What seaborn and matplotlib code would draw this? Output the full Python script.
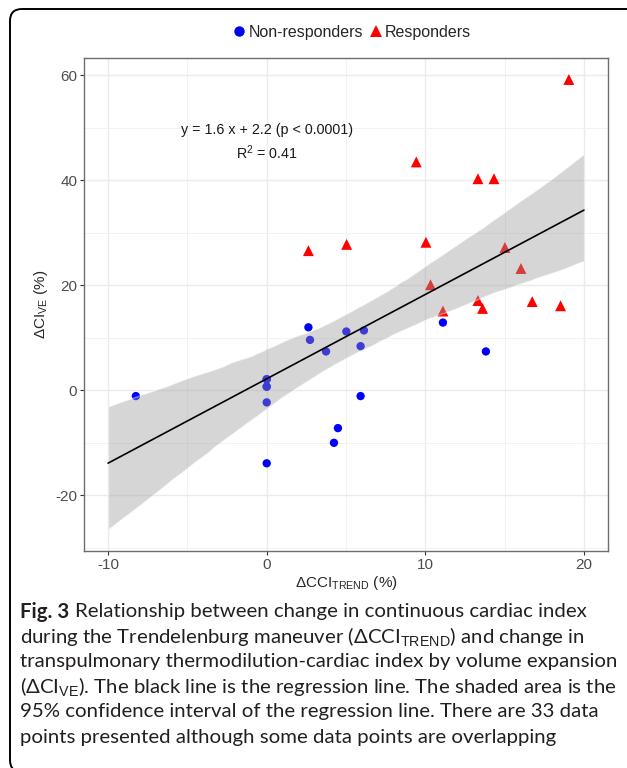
import numpy as np
import pandas as pd
import seaborn as sb
import matplotlib.pyplot as plt
from matplotlib.lines import Line2D
from matplotlib.patches import FancyBboxPatch
from matplotlib.transforms import IdentityTransform
from seaborn import algorithms as algo
from seaborn import utils

# values (x = dCCI_TREND %, y = dCI_VE %)
nonresp_x = [-8.25, 0, 0, 0, 0, 0, 0, 2.63, 2.73, 3.74, 5.02, 6.13, 5.92, 5.92, 4.49, 4.24, 11.11, 13.82]
nonresp_y = [-1.1, 2.1, 2.1, 0.7, 0.7, -2.3, -13.9, 12.0, 9.6, 7.4, 11.2, 11.4, 8.4, -1.1, -7.2, -10.0, 12.9, 7.4]
resp_x = [19.05, 9.43, 13.32, 14.33, 2.63, 5.04, 10.04, 15.02, 16.03, 10.33, 13.32, 13.61, 11.11, 16.74, 18.53]
resp_y = [59.2, 43.5, 40.3, 40.3, 26.6, 27.8, 28.2, 27.2, 23.2, 20.1, 17.1, 15.6, 15.1, 16.9, 16.1]
groups = ["Non-responders", "Responders"]
x_ticks = [-10, 0, 10, 20]
y_ticks = [-20, 0, 20, 40, 60]

equation = "y = 1.6 x + 2.2 (p < 0.0001)"
r2_text = "R$^2$ = 0.41"
caption_lines = [
    "Relationship between change in continuous cardiac index",
    "during the Trendelenburg maneuver (\u0394CCI$_{\\mathrm{TREND}}$) and change in",
    "transpulmonary thermodilution-cardiac index by volume expansion",
    "(\u0394CI$_{\\mathrm{VE}}$). The black line is the regression line. The shaded area is the",
    "95% confidence interval of the regression line. There are 33 data",
    "points presented although some data points are overlapping",
]

df = pd.DataFrame({
    "x": nonresp_x + resp_x,
    "y": nonresp_y + resp_y,
    "group": [groups[0]] * len(nonresp_x) + [groups[1]] * len(resp_x),
})


def pick_seed(x, y, ends=(-10, 20), tries=300):
    # the original band is the classic t-based 95% CI; pick the bootstrap seed
    # whose band comes closest to it at both ends of the line
    x = np.asarray(x, float)
    y = np.asarray(y, float)
    n = len(x)
    X = np.c_[np.ones(n), x]
    beta = np.linalg.lstsq(X, y, rcond=None)[0]
    resid = y - X @ beta
    s = np.sqrt(resid @ resid / (n - 2))
    g = np.asarray(ends, float)
    se = s * np.sqrt(1 / n + (g - x.mean()) ** 2 / ((x - x.mean()) ** 2).sum())
    yhat = beta[0] + beta[1] * g
    target = np.r_[yhat - 2.04 * se, yhat + 2.04 * se]
    grid = np.c_[np.ones(len(g)), g]
    best, best_err = 0, np.inf
    for sd in range(tries):
        boots = algo.bootstrap(X, y, func=lambda a, b: np.linalg.pinv(a).dot(b),
                               n_boot=1000, seed=sd).T
        lo, hi = utils.ci(grid.dot(boots).T, 95, axis=0)
        err = np.abs(np.r_[lo, hi] - target).sum()
        if err < best_err:
            best, best_err = sd, err
    return best


sb.set_style("white")
plt.rcParams["font.family"] = ["Liberation Sans", "DejaVu Sans"]
plt.rcParams["mathtext.fontset"] = "custom"
plt.rcParams["mathtext.rm"] = "Liberation Sans"
plt.rcParams["mathtext.it"] = "Liberation Sans:italic"
plt.rcParams["mathtext.bf"] = "Liberation Sans:bold"
plt.rcParams["axes.unicode_minus"] = False

W, H = 627, 768
fig = plt.figure(figsize=(W / 100, H / 100), dpi=100)
ax = fig.add_axes([84.3 / W, 1 - 550.7 / H, (607.7 - 84.3) / W, (550.7 - 57.7) / H])

palette = {groups[0]: "#0000FF", groups[1]: "#FF0000"}
markers = {groups[0]: "o", groups[1]: "^"}
sizes = {groups[0]: 36, groups[1]: 62}

sb.scatterplot(data=df, x="x", y="y", hue="group", style="group", size="group",
               palette=palette, markers=markers, sizes=sizes, linewidth=0,
               ax=ax, legend=False, zorder=2)

# regression over the x range -10..20, then widen the view
ax.set_xlim(-10, 20)
sb.regplot(data=df, x="x", y="y", scatter=False, truncate=False, ci=95,
           seed=pick_seed(df["x"], df["y"]),
           color="black", line_kws=dict(lw=1.2, zorder=4), ax=ax)
band = ax.collections[-1]
band.set_facecolor("#999999")
band.set_alpha(0.4)
band.set_zorder(3)

ax.set_xlim(-11.5, 21.5)
ax.set_ylim(-30.55, 63.35)
ax.set_xticks(x_ticks)
ax.set_yticks(y_ticks)
ax.set_xticks([-5, 5, 15], minor=True)
ax.set_yticks([-30, -10, 10, 30, 50], minor=True)
ax.grid(True, which="major", color="#EBEBEB", lw=1.0, zorder=0)
ax.grid(True, which="minor", color="#F2F2F2", lw=0.7, zorder=0)
ax.set_axisbelow(True)
ax.tick_params(which="major", direction="out", length=3, width=0.8, color="#333333",
               labelsize=11, labelcolor="#4D4D4D", pad=2, left=True, bottom=True)
ax.tick_params(which="minor", length=0)
for s in ax.spines.values():
    s.set_color("#6E6E6E")
    s.set_linewidth(1.0)

ax.set_xlabel("\u0394CCI$_{\\mathrm{TREND}}$ (%)", fontsize=11, labelpad=2)
ax.set_ylabel("\u0394CI$_{\\mathrm{VE}}$ (%)", fontsize=11, labelpad=4)

ax.text(0.05, 49.6, equation, ha="center", va="center", fontsize=10.3, color="#1A1A1A")
ax.text(0.0, 45.2, r2_text, ha="center", va="center", fontsize=10.3, color="#1A1A1A")

handles = [Line2D([], [], ls="none", marker=markers[g], color=palette[g],
                  markersize=7.5 if g == groups[0] else 9, markeredgewidth=0) for g in groups]
fig.legend(handles, groups, loc="center", bbox_to_anchor=(351 / W, 1 - 32 / H), ncol=2,
           frameon=False, fontsize=11.5, handletextpad=0.1, columnspacing=0.3,
           handlelength=1.0, borderaxespad=0)

# caption
cap_font = ["Lato", "DejaVu Sans"]
cap_size = 14.7
renderer = fig.canvas.get_renderer()
y0 = 612
t = fig.text(20 / W, 1 - y0 / H, "Fig. 3", fontsize=cap_size, fontweight="bold",
             family=cap_font, color="#231F20", va="center", ha="left")
bb = t.get_window_extent(renderer)
fig.text((bb.x1 + 6) / W, 1 - y0 / H, caption_lines[0], fontsize=cap_size, family=cap_font,
         color="#231F20", va="center", ha="left")
for i, line in enumerate(caption_lines[1:], start=1):
    fig.text(20 / W, 1 - (y0 + 25 * i) / H, line, fontsize=cap_size, family=cap_font,
             color="#231F20", va="center", ha="left")

# rounded frame around the figure panel
frame = FancyBboxPatch((10, -4), 640, H - 9 + 4, boxstyle="round,pad=0,rounding_size=12",
                       transform=IdentityTransform(), facecolor="none", edgecolor="black",
                       lw=1.4, clip_on=False)
fig.patches.append(frame)

fig.savefig("out.png", dpi=100)
